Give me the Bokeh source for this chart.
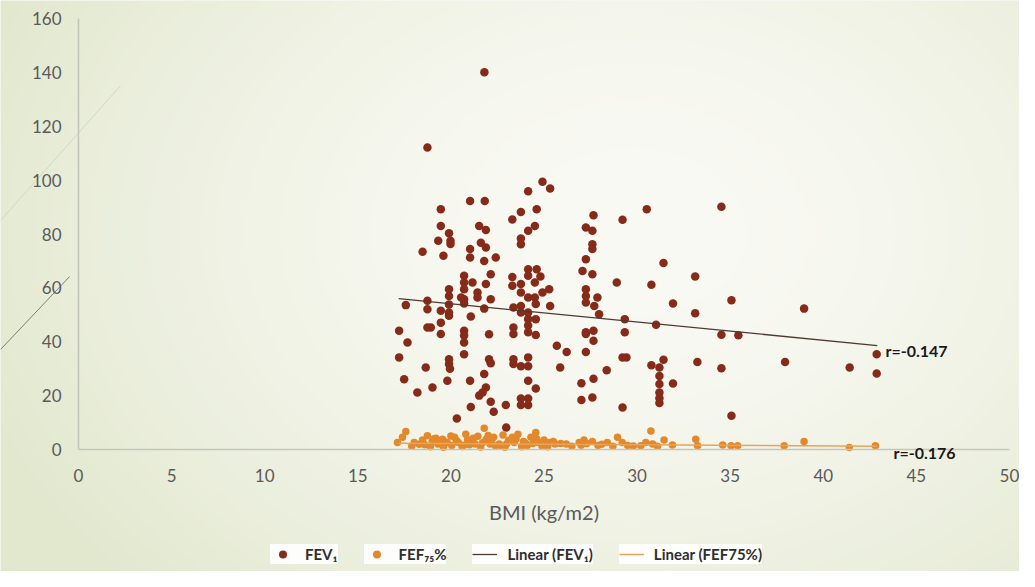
import numpy as np
from bokeh.plotting import figure
from bokeh.models import Range1d, Legend, LegendItem, Label, FixedTicker
from bokeh.embed import file_html
from bokeh.resources import INLINE

# ---------------- data ----------------
bmi_fev = [21.8, 18.74, 21.03, 21.82, 19.46, 23.3, 19.46, 21.52, 19.9, 21.88,
           19.98, 19.98, 19.32, 21.61, 21.88, 18.48, 19.6, 21.03, 21.03, 22.41,
           21.79, 20.71, 22.14, 20.71, 21.16, 21.88, 23.3, 23.3, 19.9, 20.71,
           21.43, 19.9, 20.71, 21.43, 20.55, 22.14, 17.58, 18.74, 18.74, 19.9,
           20.71, 19.46, 19.9, 21.79, 19.9, 21.07, 19.46, 18.74, 18.92, 17.22,
           20.71, 19.46, 20.71, 22.05, 17.67, 20.71, 17.22, 20.71, 19.9, 22.05,
           19.9, 18.65, 19.95, 22.14, 17.49, 19.81, 21.03, 19.01, 18.2, 21.79,
           21.88, 21.7, 21.52, 22.14, 22.95, 22.3, 21.07, 20.32, 22.97,
           24.92, 25.33, 24.15, 24.61, 23.76, 24.51, 24.15, 23.76, 23.76, 27.66,
           29.22, 27.25, 27.6, 27.6, 27.6, 27.25, 27.07, 27.6, 28.91, 24.15,
           24.61, 24.15, 24.81, 24.51, 23.76, 23.76, 24.15, 24.92, 25.28, 24.51,
           24.56, 25.33, 23.76, 23.36, 23.76, 24.15, 24.15, 24.56, 24.15, 23.36,
           23.36, 24.15, 24.56, 27.25, 27.25, 27.87, 27.25, 27.7, 27.96, 29.34,
           27.25, 27.66, 27.66, 27.25, 29.34, 25.69, 26.22, 27.25, 29.22, 29.43,
           23.36, 24.15, 23.36, 23.76, 24.15, 25.87, 28.37, 27.66, 24.15, 24.56,
           27.01, 27.01, 27.6, 23.76, 24.15, 23.76, 24.15, 29.22,
           30.52, 34.53, 31.42, 33.12, 30.77, 35.07, 31.93, 33.12, 31.02, 34.53,
           35.44, 31.42, 30.77, 31.2, 31.2, 33.24, 34.53, 31.2, 31.93, 31.2,
           31.2, 31.2, 35.07,
           38.97, 37.95, 41.42, 42.87, 42.87]
fev = [140.1, 112.1, 92.3, 92.3, 89.2, 85.4, 83.0, 83.0, 80.3, 81.5,
       77.5, 76.3, 77.5, 76.8, 75.0, 73.4, 71.9, 74.4, 71.3, 71.3,
       70.0, 64.5, 65.1, 62.0, 62.0, 61.4, 64.0, 60.8, 59.5, 59.5,
       58.3, 57.0, 55.8, 56.4, 56.4, 55.8, 53.6, 55.2, 52.1, 53.8,
       54.2, 51.5, 50.9, 52.3, 49.7, 49.4, 47.1, 45.3, 45.3, 44.1,
       44.1, 42.9, 42.3, 42.8, 39.7, 39.7, 34.2, 35.4, 33.5, 33.5,
       31.7, 30.4, 30.0, 32.0, 26.1, 25.5, 25.5, 23.0, 21.2, 28.0,
       23.0, 21.2, 20.0, 17.7, 16.5, 14.0, 15.8, 11.5, 8.2,
       99.4, 96.9, 95.9, 89.2, 88.2, 83.0, 81.2, 78.3, 76.2, 87.0,
       85.3, 82.4, 81.2, 76.2, 74.4, 70.6, 66.3, 65.1, 62.0, 66.9,
       66.9, 64.5, 64.2, 62.0, 61.4, 58.3, 56.4, 58.3, 59.5, 56.4,
       54.0, 53.3, 53.3, 52.7, 50.9, 50.9, 48.4, 48.4, 46.0, 45.3,
       42.9, 43.5, 42.5, 59.5, 57.0, 56.4, 54.6, 53.3, 50.2, 48.4,
       43.5, 44.1, 40.4, 42.9, 43.5, 38.5, 36.2, 36.2, 34.2, 34.2,
       33.5, 34.2, 31.7, 30.9, 30.9, 30.4, 29.4, 26.3, 25.5, 22.6,
       24.6, 18.4, 19.3, 18.9, 18.9, 16.5, 16.5, 15.6,
       89.2, 90.1, 69.2, 64.2, 61.2, 55.4, 54.2, 50.6, 46.3, 42.6,
       42.4, 33.3, 31.3, 30.4, 27.3, 32.5, 30.2, 24.3, 24.5, 21.2,
       19.0, 17.3, 12.5,
       52.3, 32.5, 30.4, 35.4, 28.2]

bmi_fef = [17.58, 17.4, 17.13, 18.03, 18.48, 18.74, 19.0, 19.3, 19.55, 19.8,
           20.05, 20.2, 20.4, 20.8, 21.1, 21.3, 21.45, 21.79, 21.9, 22.1,
           22.3, 22.6, 23.3, 23.4, 23.6, 23.9, 24.1, 24.3, 24.56, 24.7,
           25.0, 25.3, 25.6, 25.9, 26.2, 26.89, 27.15, 27.3, 27.6, 27.9,
           28.4, 28.95, 29.2, 29.5,
           30.74, 30.47, 30.83, 31.1, 31.45, 31.9, 33.15, 33.25, 34.6, 35.05,
           35.4, 37.9, 38.97, 41.4, 42.8,
           17.9, 18.9, 19.6, 20.6, 21.6, 22.4, 22.9, 23.8, 24.9, 19.2,
           20.9, 22.0, 23.1, 24.4, 18.3, 21.0, 23.0, 25.2, 20.0, 22.8,
           18.6, 19.1, 19.7, 20.3, 20.7, 21.2, 21.7, 22.2, 22.7, 23.5,
           24.0, 24.6, 25.1, 25.5, 26.5, 27.0, 28.1, 28.7, 29.8, 30.2]
fef = [6.7, 4.5, 2.6, 2.6, 3.5, 5.1, 3.0, 2.0, 3.8, 2.6,
       1.5, 4.5, 2.6, 5.7, 3.2, 2.0, 4.9, 7.9, 3.8, 2.0,
       4.5, 2.0, 4.5, 2.6, 5.7, 3.0, 1.5, 4.5, 6.3, 2.6,
       3.5, 2.6, 2.0, 2.2, 2.0, 2.6, 3.5, 2.2, 3.0, 1.5,
       2.6, 4.5, 2.6, 1.5,
       6.9, 2.6, 2.0, 1.2, 3.5, 1.7, 3.8, 1.4, 1.7, 1.4,
       1.4, 1.4, 3.0, 0.7, 1.4,
       1.2, 1.0, 0.8, 1.1, 0.9, 1.3, 0.8, 1.0, 1.2, 4.2,
       3.6, 5.2, 3.4, 2.2, 1.9, 1.8, 2.1, 1.0, 5.0, 5.4,
       1.8, 4.0, 2.8, 3.3, 1.6, 4.2, 2.5, 3.6, 1.4, 3.9,
       2.4, 4.0, 1.3, 3.0, 1.2, 1.6, 1.9, 1.2, 1.3, 1.4]

trend_bmi = [17.2, 42.9]
fev_trend = [56.0, 38.6]
fef_trend = [2.3, 1.2]

x_ticks = [0, 5, 10, 15, 20, 25, 30, 35, 40, 45, 50]
y_ticks = [0, 20, 40, 60, 80, 100, 120, 140, 160]
series_names = ["FEV\u2081", "FEF\u2087\u2085%", "Linear (FEV\u2081)", "Linear (FEF75%)"]
r_texts = ["r=-0.147", "r=-0.176"]
x_title = "BMI (kg/m2)"

# decorative theme strokes at the left edge (slide background)
deco_x = [[-4.19, 2.26], [-4.19, -0.48]]
deco_y = [[85.0, 135.1], [37.1, 64.2]]

# ---------------- figure ----------------
W, H = 1019, 571
x0, x1 = -4.19, 50.54
y0, y1 = -45.3, 166.7

p = figure(width=W, height=H, output_backend="svg", toolbar_location=None,
           x_range=Range1d(x0, x1), y_range=Range1d(y0, y1),
           min_border=0)
p.border_fill_color = "#eef1e3"
p.background_fill_color = "#f2f4ea"
p.outline_line_color = None
p.xgrid.visible = False
p.ygrid.visible = False

# soft slide-style background gradient
gh, gw = 286, 510
jj, ii = np.meshgrid(np.arange(gw), np.arange(gh))
px = 8 + (jj + 0.5) * W / gw
py = 8 + H - (ii + 0.5) * H / gh          # row 0 is the bottom
d = np.sqrt(((px - 640) / 700.0) ** 2 + ((py - 240) / 520.0) ** 2)
t = np.clip(d, 0, 1) ** 1.6
c_in = np.array([250, 250, 245])
c_out = np.array([226, 232, 206])
rgb = c_in[None, None, :] + (c_out - c_in)[None, None, :] * t[:, :, None]
img = np.empty((gh, gw), dtype=np.uint32)
view = img.view(dtype=np.uint8).reshape((gh, gw, 4))
view[:, :, 0] = rgb[:, :, 0].astype(np.uint8)
view[:, :, 1] = rgb[:, :, 1].astype(np.uint8)
view[:, :, 2] = rgb[:, :, 2].astype(np.uint8)
view[:, :, 3] = 255
p.image_rgba(image=[img], x=x0, y=y0, dw=x1 - x0, dh=y1 - y0)

p.multi_line(deco_x, deco_y, line_color=["#d3d7c3", "#7d7f70"], line_width=1)

for ax in (p.xaxis[0], p.yaxis[0]):
    ax.fixed_location = 0
    ax.axis_line_color = "#c4c6ba"
    ax.axis_line_width = 1.6
    ax.major_tick_line_color = None
    ax.minor_tick_line_color = None
    ax.major_label_text_font = "Lato"
    ax.major_label_text_font_size = "17px"
    ax.major_label_text_color = "#5a5a5a"

p.xaxis.bounds = (0, 50)
p.yaxis.bounds = (0, 160)
p.xaxis.ticker = FixedTicker(ticks=x_ticks)
p.yaxis.ticker = FixedTicker(ticks=y_ticks)
p.xaxis.major_label_standoff = 14
p.yaxis.major_label_standoff = 11
p.xaxis.axis_label = x_title
p.xaxis.axis_label_text_font = "Lato"
p.xaxis.axis_label_text_font_style = "normal"
p.xaxis.axis_label_text_font_size = "20px"
p.xaxis.axis_label_text_color = "#5a5a5a"
p.xaxis.axis_label_standoff = 14

fev_color = "#862b1a"
fef_color = "#e3892b"

r_fev = p.scatter(bmi_fev, fev, size=8.5, color=fev_color, line_color=None)
r_fef = p.scatter(bmi_fef, fef, size=7.5, color=fef_color, line_color=None)
r_lfev = p.line(trend_bmi, fev_trend, line_color="#4e3a30", line_width=1.3)
r_lfef = p.line(trend_bmi, fef_trend, line_color="#e6a45c", line_width=1.5)

p.add_layout(Label(x=43.34, y=36.75, text=r_texts[0], text_font="Lato",
                   text_font_style="bold", text_font_size="16px",
                   text_color="#1a1a1a", text_baseline="middle"))
p.add_layout(Label(x=43.77, y=-1.1, text=r_texts[1], text_font="Lato",
                   text_font_style="bold", text_font_size="16px",
                   text_color="#1a1a1a", text_baseline="middle"))

legend = Legend(items=[LegendItem(label=series_names[0], renderers=[r_fev]),
                       LegendItem(label=series_names[1], renderers=[r_fef]),
                       LegendItem(label=series_names[2], renderers=[r_lfev]),
                       LegendItem(label=series_names[3], renderers=[r_lfef])],
                orientation="horizontal", location=(270, 7),
                background_fill_alpha=0, border_line_color=None,
                padding=4, margin=0,
                item_background_policy="every",
                item_background_fill_color="white",
                item_background_fill_alpha=0.9,
                label_text_font="Lato", label_text_font_style="bold",
                label_text_font_size="15px", label_text_color="#2e2e2e",
                glyph_width=25, glyph_height=20, label_standoff=10, spacing=26)
p.add_layout(legend, "center")

open("out.html", "w").write(file_html(p, INLINE))
